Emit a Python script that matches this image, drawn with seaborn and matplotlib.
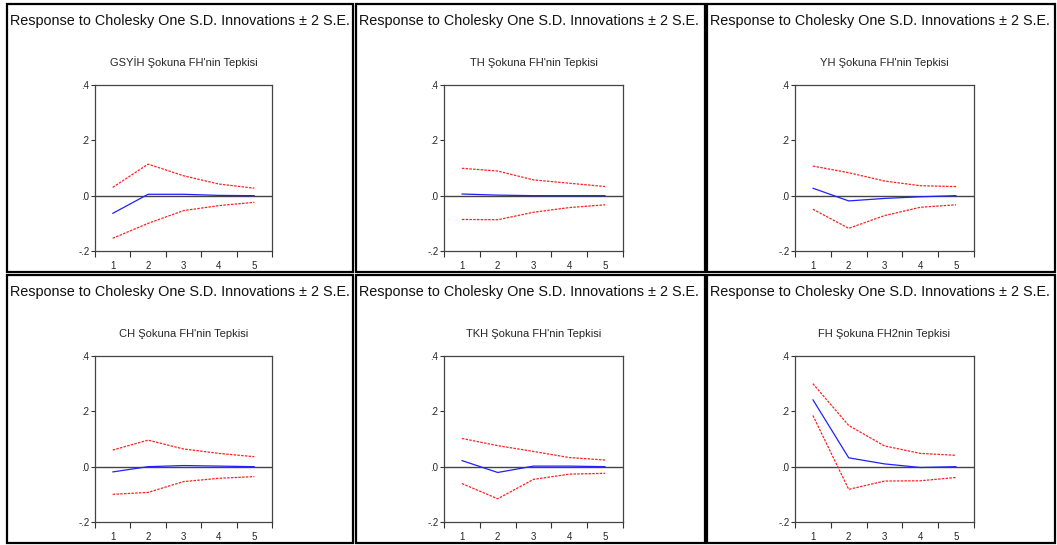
import pandas as pd
import matplotlib
matplotlib.use("Agg")
import matplotlib.pyplot as plt
from matplotlib.patches import Rectangle
import seaborn as sns

periods = [1, 2, 3, 4, 5]
main_title = "Response to Cholesky One S.D. Innovations ± 2 S.E."
panel_titles = ["GSYİH Şokuna FH'nin Tepkisi", "TH Şokuna FH'nin Tepkisi",
                "YH Şokuna FH'nin Tepkisi", "CH Şokuna FH'nin Tepkisi",
                "TKH Şokuna FH'nin Tepkisi", "FH Şokuna FH2nin Tepkisi"]

gsyih_resp = [-0.064, 0.005, 0.005, 0.001, 0.0]
gsyih_up = [0.030, 0.114, 0.072, 0.042, 0.027]
gsyih_lo = [-0.154, -0.100, -0.054, -0.036, -0.024]

th_resp = [0.006, 0.002, 0.0, 0.0, 0.0]
th_up = [0.099, 0.089, 0.057, 0.045, 0.033]
th_lo = [-0.086, -0.087, -0.060, -0.043, -0.033]

yh_resp = [0.027, -0.019, -0.010, -0.004, 0.0]
yh_up = [0.107, 0.083, 0.053, 0.036, 0.033]
yh_lo = [-0.049, -0.118, -0.072, -0.042, -0.033]

ch_resp = [-0.019, 0.0, 0.004, 0.002, 0.0]
ch_up = [0.060, 0.096, 0.064, 0.048, 0.036]
ch_lo = [-0.100, -0.093, -0.054, -0.042, -0.036]

tkh_resp = [0.022, -0.021, 0.002, 0.002, 0.0]
tkh_up = [0.102, 0.076, 0.055, 0.033, 0.024]
tkh_lo = [-0.061, -0.116, -0.046, -0.027, -0.024]

fh_resp = [0.242, 0.032, 0.010, -0.003, 0.0]
fh_up = [0.300, 0.149, 0.075, 0.048, 0.041]
fh_lo = [0.185, -0.082, -0.052, -0.051, -0.039]

y_ticks = [-0.2, 0.0, 0.2, 0.4]
y_tick_labels = ["-.2", ".0", ".2", ".4"]

panels = [
    (gsyih_resp, gsyih_up, gsyih_lo),
    (th_resp, th_up, th_lo),
    (yh_resp, yh_up, yh_lo),
    (ch_resp, ch_up, ch_lo),
    (tkh_resp, tkh_up, tkh_lo),
    (fh_resp, fh_up, fh_lo),
]

sns.set_style("white")
plt.rcParams["font.family"] = ["Liberation Sans", "DejaVu Sans"]

W, H = 1057, 545
fig = plt.figure(figsize=(W / 100, H / 100), dpi=100)
renderer = fig.canvas.get_renderer()

col_boxes = [(7, 353), (356, 705), (707, 1055)]
row_boxes = [(4, 272), (275, 543)]
ax_cols = [(95, 272), (444, 623), (795, 974)]
ax_rows = [(85, 251), (356, 522)]

# the original uses a narrow font: shrink the title until it fits the panel
probe = fig.text(0, 0, main_title, fontsize=14)
title_size = 14 * 340 / probe.get_window_extent(renderer).width
probe.remove()

for i, (resp, up, lo) in enumerate(panels):
    r, c = divmod(i, 3)
    bx0, bx1 = col_boxes[c]
    by0, by1 = row_boxes[r]
    fig.add_artist(Rectangle((bx0 / W, 1 - by1 / H), (bx1 - bx0) / W, (by1 - by0) / H,
                             transform=fig.transFigure, fill=False, ec="black", lw=1.6))
    fig.text((bx0 + 3) / W, 1 - (by0 + 17) / H, main_title, fontsize=title_size,
             ha="left", va="center", color="#111111")

    x0, x1 = ax_cols[c]
    y0, y1 = ax_rows[r]
    ax = fig.add_axes([x0 / W, 1 - y1 / H, (x1 - x0) / W, (y1 - y0) / H])
    df = pd.DataFrame({"period": periods, "resp": resp, "up": up, "lo": lo})
    ax.axhline(0, color="#444444", lw=1.0, zorder=1)
    sns.lineplot(data=df, x="period", y="up", ax=ax, color="#ff2020", lw=0.9,
                 linestyle=(0, (2, 1)), zorder=3)
    sns.lineplot(data=df, x="period", y="lo", ax=ax, color="#ff2020", lw=0.9,
                 linestyle=(0, (2, 1)), zorder=3)
    sns.lineplot(data=df, x="period", y="resp", ax=ax, color="#2020ff", lw=0.9, zorder=4)

    ax.set_xlim(0.5, 5.5)
    ax.set_ylim(-0.2, 0.4)
    ax.set_xticks([0.5, 1.5, 2.5, 3.5, 4.5, 5.5])
    ax.set_xticklabels([])
    ax.set_xticks(periods, minor=True)
    ax.set_xticklabels([str(p) for p in periods], minor=True)
    ax.set_yticks(y_ticks)
    ax.set_yticklabels(y_tick_labels)
    ax.tick_params(axis="x", which="major", direction="out", length=4, width=0.8,
                   color="#333333", bottom=True)
    ax.tick_params(axis="x", which="minor", length=0, labelsize=7, pad=7)
    ax.tick_params(axis="y", direction="out", length=3, width=0.8, color="#333333",
                   left=True, labelsize=7, pad=1)
    for s in ax.spines.values():
        s.set_color("#444444")
        s.set_linewidth(0.9)
    ax.set_xlabel("")
    ax.set_ylabel("")
    ax.set_title(panel_titles[i], fontsize=8, pad=14)

fig.savefig("out.png", dpi=100)
